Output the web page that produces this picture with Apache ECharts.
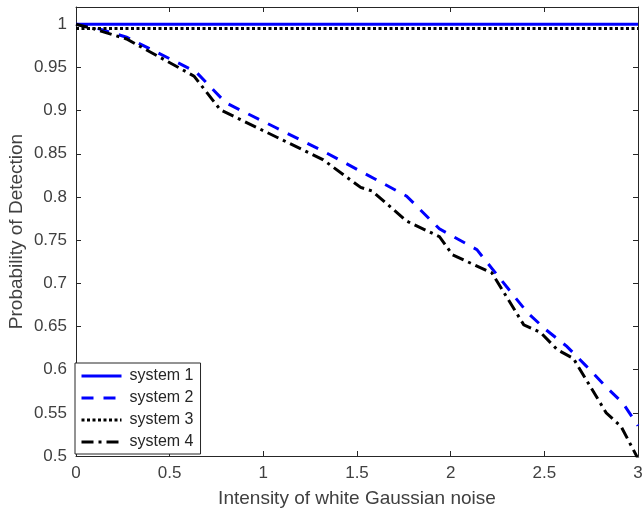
<!DOCTYPE html>
<html>
<head>
<meta charset="utf-8">
<script src="https://cdn.jsdelivr.net/npm/echarts@6/dist/echarts.min.js"></script>
<style>
  html, body { margin: 0; padding: 0; background: #fff; }
  #chart { width: 644px; height: 512px; }
</style>
</head>
<body>
<div id="chart"></div>
<script>
// Detection probability versus noise intensity for four systems
const noiseSystem1 = [0, 3];
const pdSystem1 = [1, 1];

const noiseSystem3 = [0, 3];
const pdSystem3 = [0.995, 0.995];

const noiseSystem2 = [0, 0.09, 0.27, 0.64, 0.80, 1.06, 1.32, 1.50, 1.765, 1.94, 2.14, 2.18, 2.41, 2.51, 2.62, 2.72, 2.83, 2.92, 3.0];
const pdSystem2 = [1, 0.997, 0.985, 0.945, 0.909, 0.881, 0.853, 0.832, 0.801, 0.763, 0.739, 0.728, 0.666, 0.646, 0.627, 0.605, 0.580, 0.561, 0.535];

const noiseSystem4 = [0, 0.09, 0.27, 0.63, 0.77, 1.32, 1.52, 1.58, 1.765, 1.94, 2.01, 2.22, 2.39, 2.48, 2.57, 2.655, 2.83, 2.91, 3.0];
const pdSystem4 = [1, 0.995, 0.983, 0.940, 0.901, 0.843, 0.811, 0.807, 0.772, 0.754, 0.733, 0.712, 0.652, 0.643, 0.623, 0.613, 0.550, 0.534, 0.497];

const seriesNames = ['system 1', 'system 2', 'system 3', 'system 4'];
const xTitle = 'Intensity of white Gaussian noise';
const yTitle = 'Probability of Detection';

const pairs = (xs, ys) => xs.map((x, i) => [x, ys[i]]);

const axisColor = '#262626';
const labelColor = '#404040';
const fontFamily = 'Liberation Sans, Arial, sans-serif';

const chart = echarts.init(document.getElementById('chart'), null, { renderer: 'canvas' });

const lineSeries = (name, data, color, type) => ({
  name,
  type: 'line',
  data,
  xAxisIndex: 0,
  yAxisIndex: 0,
  showSymbol: false,
  symbol: 'none',
  animation: false,
  clip: true,
  lineStyle: { color, width: 3, type, cap: 'butt', join: 'miter' },
  itemStyle: { color }
});

// box-style frame: plain axes on all four sides, ticks pointing inward
const frameAxis = (extra) => Object.assign({
  type: 'value',
  axisLine: { show: true, onZero: false, lineStyle: { color: axisColor, width: 1 } },
  axisTick: { show: true, inside: true, length: 5, lineStyle: { color: axisColor } },
  splitLine: { show: false }
}, extra);

chart.setOption({
  animation: false,
  backgroundColor: '#fff',
  textStyle: { fontFamily },
  grid: { left: 76, right: 6, top: 7, bottom: 56, containLabel: false, outerBoundsMode: 'none' },
  legend: {
    left: 75,
    top: 363,
    orient: 'vertical',
    itemWidth: 40,
    itemHeight: 14,
    itemGap: 6,
    padding: [5, 7, 4, 5],
    borderColor: axisColor,
    borderWidth: 1,
    borderRadius: 0,
    backgroundColor: '#fff',
    itemStyle: { opacity: 0 },
    lineStyle: { width: 3 },
    textStyle: { color: '#262626', fontSize: 16, fontFamily, padding: [0, 0, 0, 3] },
    data: seriesNames
  },
  xAxis: [
    frameAxis({
      min: 0, max: 3, interval: 0.5, position: 'bottom',
      name: xTitle, nameLocation: 'middle', nameGap: 33, nameMoveOverlap: false,
      nameTextStyle: { color: labelColor, fontSize: 19, fontFamily },
      axisLabel: { color: labelColor, fontSize: 17, margin: 9, fontFamily }
    }),
    frameAxis({
      min: 0, max: 3, interval: 0.5, position: 'top',
      axisLabel: { show: false }
    })
  ],
  yAxis: [
    frameAxis({
      min: 0.5, max: 1.02, interval: 0.05, position: 'left',
      name: yTitle, nameLocation: 'middle', nameGap: 50, nameRotate: 90, nameMoveOverlap: false,
      nameTextStyle: { color: labelColor, fontSize: 19, fontFamily },
      axisLabel: {
        color: labelColor, fontSize: 17, margin: 9, fontFamily,
        formatter: v => (v > 1.001 ? '' : String(+v.toFixed(2)))
      }
    }),
    frameAxis({
      min: 0.5, max: 1.02, interval: 0.05, position: 'right',
      axisLabel: { show: false }
    })
  ],
  series: [
    lineSeries(seriesNames[0], pairs(noiseSystem1, pdSystem1), '#0000ff', 'solid'),
    lineSeries(seriesNames[1], pairs(noiseSystem2, pdSystem2), '#0000ff', [12, 10]),
    lineSeries(seriesNames[2], pairs(noiseSystem3, pdSystem3), '#000000', [3, 2.5]),
    lineSeries(seriesNames[3], pairs(noiseSystem4, pdSystem4), '#000000', [12, 5, 3, 5])
  ]
});
</script>
</body>
</html>
